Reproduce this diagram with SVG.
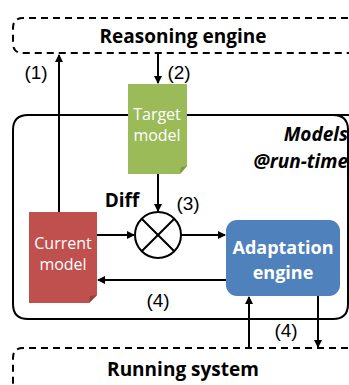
<svg xmlns="http://www.w3.org/2000/svg" width="349" height="385" viewBox="0 0 349 385">
<style>
.dash{fill:none;stroke:#000;stroke-width:2;stroke-dasharray:7 5}
.ln{fill:none;stroke:#000;stroke-width:2}
.big{font-family:"Open Sans","Liberation Sans",sans-serif;font-weight:bold;font-size:19px;fill:#000}
.lbl{font-family:"Liberation Sans",Arial,sans-serif;font-size:19px;fill:#000}
.wt{font-family:"Open Sans","Liberation Sans",sans-serif;font-size:16px;fill:#fff}
.wb{font-family:"Open Sans","Liberation Sans",sans-serif;font-weight:bold;font-size:18px;fill:#fff}
</style>
<defs>
<marker id="ah" markerWidth="8" markerHeight="8" refX="7" refY="4" orient="auto" markerUnits="userSpaceOnUse">
<path d="M0,0 L8,4 L0,8 Z" fill="#000"/>
</marker>
</defs>
<rect width="349" height="385" fill="#fff"/>
<g id="reasoning">
<path class="dash" d="M360,18 H23 Q13,18 13,28 V43 Q13,53 23,53 H360"/>
<text class="big" x="183" y="43" text-anchor="middle">Reasoning engine</text>
</g>
<g id="models">
<path class="ln" d="M360,115 H333 Q348,115 348,130 V304 Q348,319 333,319 H28 Q13,319 13,304 V130 Q13,115 28,115 Z"/>
<text class="big" font-style="italic" x="348" y="141" text-anchor="end">Models</text>
<text class="big" font-style="italic" x="348" y="168" text-anchor="end">@run-time</text>
</g>
<g id="running">
<path class="dash" d="M360,348 H23 Q13,348 13,358 V390"/>
<text class="big" x="183" y="376" text-anchor="middle">Running system</text>
</g>
<g id="connectors">
<line class="ln" x1="59" y1="212" x2="59" y2="55" marker-end="url(#ah)"/>
<line class="ln" x1="158" y1="53" x2="158" y2="83" marker-end="url(#ah)"/>
<line class="ln" x1="158" y1="174" x2="158" y2="211" marker-end="url(#ah)"/>
<line class="ln" x1="97" y1="235" x2="134" y2="235" marker-end="url(#ah)"/>
<line class="ln" x1="181" y1="235" x2="225" y2="235" marker-end="url(#ah)"/>
<line class="ln" x1="226" y1="280" x2="98" y2="280" marker-end="url(#ah)"/>
<line class="ln" x1="249" y1="348" x2="249" y2="297" marker-end="url(#ah)"/>
<line class="ln" x1="318" y1="296" x2="318" y2="347" marker-end="url(#ah)"/>
<text class="lbl" x="36" y="79" text-anchor="middle">(1)</text>
<text class="lbl" x="179" y="79" text-anchor="middle">(2)</text>
<text class="lbl" x="188" y="210" text-anchor="middle">(3)</text>
<text class="lbl" x="158" y="307" text-anchor="middle">(4)</text>
<text class="lbl" x="286" y="337" text-anchor="middle">(4)</text>
<text class="big" x="122" y="207" text-anchor="middle" font-size="16">Diff</text>
</g>
<g id="target">
<path d="M128,84 H187 V166 L180,174 H128 Z" fill="#9BBB59"/>
<path d="M187,166 L180,174 L181,167 Z" fill="#7D9A45"/>
<text class="wt" x="157" y="120" text-anchor="middle">Target</text>
<text class="wt" x="157" y="141" text-anchor="middle">model</text>
</g>
<g id="diff">
<circle cx="158" cy="235" r="23" fill="#fff" stroke="#000" stroke-width="2"/>
<path class="ln" d="M141.7,218.7 L174.3,251.3 M174.3,218.7 L141.7,251.3"/>
</g>
<g id="current">
<path d="M29,212 H97 V295 L89,303 H29 Z" fill="#C0504D"/>
<path d="M97,295 L89,303 L90,296 Z" fill="#9A3E3B"/>
<text class="wt" x="63" y="249" text-anchor="middle">Current</text>
<text class="wt" x="63" y="270" text-anchor="middle">model</text>
</g>
<g id="adaptation">
<rect x="226" y="220" width="114" height="76" rx="11" fill="#4F81BD"/>
<text class="wb" x="283" y="254" text-anchor="middle">Adaptation</text>
<text class="wb" x="283" y="279" text-anchor="middle">engine</text>
</g>
</svg>
